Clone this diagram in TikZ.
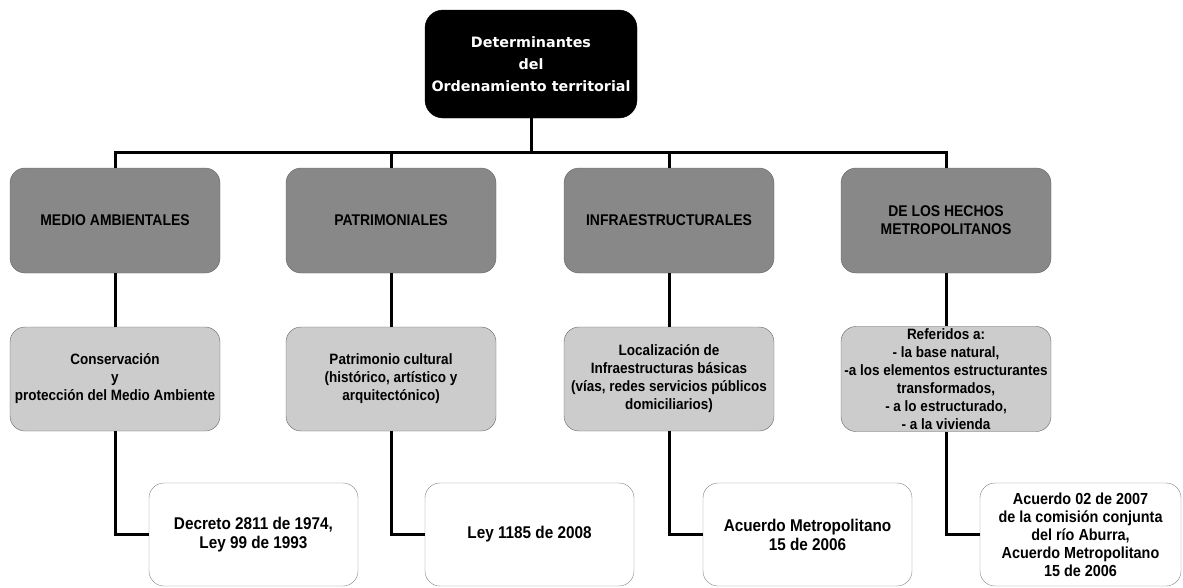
\documentclass[tikz,border=0pt]{standalone}
\usepackage{fontspec}
\setmainfont{Liberation Sans}[FakeStretch=0.9]
\newfontfamily\headfont{DejaVu Sans}
\definecolor{boxgray}{RGB}{136,136,136}
\definecolor{boxlight}{RGB}{204,204,204}
\definecolor{edgegray}{RGB}{100,100,100}

\begin{document}
\begin{tikzpicture}[x=1pt, y=-1pt,
    every node/.style={font=\bfseries\fontsize{15}{18}\selectfont, align=center, inner sep=2pt, rounded corners=15pt},
    topbox/.style={draw=black, fill=black, text=white, font=\headfont\bfseries\fontsize{14.3}{22}\selectfont, minimum width=212pt, minimum height=108pt, rounded corners=18pt},
    groupbox/.style={draw=edgegray, fill=boxgray, font=\bfseries\fontsize{15.5}{18}\selectfont, minimum width=210pt, minimum height=105pt},
    detailbox/.style={draw=edgegray, fill=boxlight, minimum width=210pt, minimum height=104pt},
    normbox/.style={draw=edgegray!80, fill=white, font=\bfseries\fontsize{17}{19}\selectfont, minimum width=209pt, minimum height=103pt},
    link/.style={line width=3pt}]
  \useasboundingbox (0,0) rectangle (1183,587);
  % root
  \node[topbox] (root) at (531,64) {Determinantes\\del\\Ordenamiento territorial};
  \coordinate (bus) at (531,152);
  % four kinds of determinants
  \node[groupbox] (amb) at (115,220.5) {MEDIO AMBIENTALES};
  \node[groupbox] (pat) at (391,220.5) {PATRIMONIALES};
  \node[groupbox] (inf) at (669,220.5) {INFRAESTRUCTURALES};
  \node[groupbox] (met) at (946,220.5) {DE LOS HECHOS\\METROPOLITANOS};
  % what each one covers
  \node[detailbox] (amb-det) at (115,379) {Conservación\\y\\protección del Medio Ambiente};
  \node[detailbox] (pat-det) at (391,379) {Patrimonio cultural\\(histórico, artístico y\\arquitectónico)};
  \node[detailbox] (inf-det) at (669,379) {Localización de\\Infraestructuras básicas\\(vías, redes servicios públicos\\domiciliarios)};
  \node[detailbox] (met-det) at (946,379) {Referidos a:\\- la base natural,\\-a los elementos estructurantes\\transformados,\\- a lo estructurado,\\- a la vivienda};
  % legal norms
  \node[normbox] (amb-norm) at (253.5,534.5) {Decreto 2811 de 1974,\\Ley 99 de 1993};
  \node[normbox] (pat-norm) at (529.5,534.5) {Ley 1185 de 2008};
  \node[normbox] (inf-norm) at (807.5,534.5) {Acuerdo Metropolitano\\15 de 2006};
  \node[normbox, font=\bfseries\fontsize{16}{18}\selectfont, minimum width=201pt] (met-norm) at (1080.5,534.5) {Acuerdo 02 de 2007\\de la comisión conjunta\\del río Aburra,\\Acuerdo Metropolitano\\15 de 2006};
  % connectors
  \draw[link] (root) -- (bus);
  \foreach \g in {amb,pat,inf,met} {
    \draw[link] (bus) -| (\g.north);
    \draw[link] (\g) -- (\g-det);
    \draw[link] (\g-det.south) |- (\g-norm.west);
  }
\end{tikzpicture}
\end{document}
